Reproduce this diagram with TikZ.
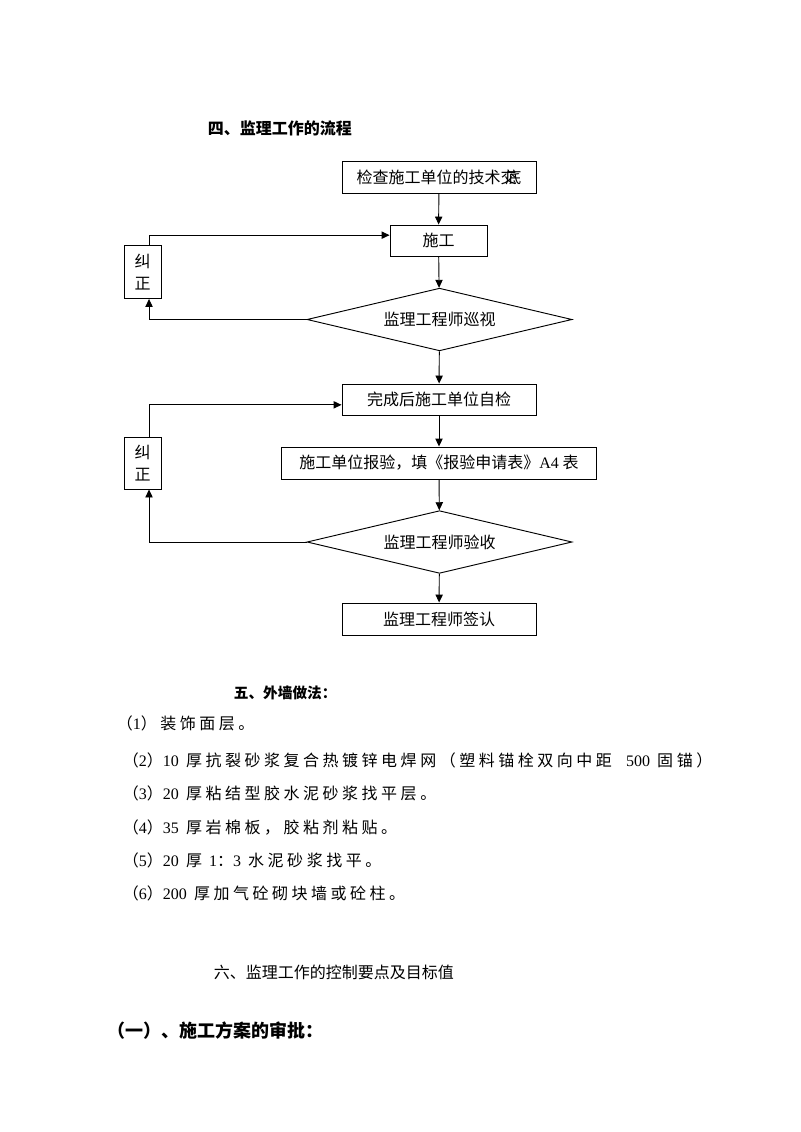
\documentclass[tikz,border=0pt]{standalone}
\usepackage{fontspec}
\setmainfont{Liberation Serif}
\newfontfamily\cjk{Noto Sans CJK SC}
\newfontfamily\cjkbody[LetterSpace=22]{Noto Sans CJK SC}
\usetikzlibrary{shapes.geometric, arrows.meta}

\begin{document}
\begin{tikzpicture}[x=0.75pt, y=-0.75pt, line width=0.7pt,
    every node/.style={font=\cjk\fontsize{12pt}{15pt}\selectfont},
    stepbox/.style={draw, rectangle, inner sep=0pt, minimum width=145.5pt, minimum height=24pt},
    checkbox/.style={draw, diamond, inner sep=0pt, shape aspect=4.2, minimum width=198.75pt, minimum height=47pt},
    fixbox/.style={draw, rectangle, align=center, inner sep=0pt, minimum width=27.75pt, minimum height=39.75pt,
      font=\cjk\fontsize{12pt}{16pt}\selectfont},
    flow/.style={-{Triangle[length=6pt,width=5.5pt]}},
    heading/.style={anchor=west, font=\cjk\bfseries\fontsize{12pt}{15pt}\selectfont},
    item/.style={anchor=west, font=\cjkbody\fontsize{12pt}{14pt}\selectfont}]
  \useasboundingbox (0,0) rectangle (800,1132);

  \node [heading] (title4) at (203,128) {四、监理工作的流程};

  % main column
  \node [stepbox] (check) at (439,177) {检查施工单位的技术交\kern-0.7em底};
  \node [stepbox, minimum width=72.75pt, minimum height=23.25pt] (work) at (438.5,240.5) {施工};
  \node [checkbox] (patrol) at (439.5,319.5) {监理工程师巡视};
  \node [stepbox, minimum height=23.25pt] (self) at (439,399.5) {完成后施工单位自检};
  \node [stepbox, minimum width=236.25pt] (apply) at (439,463) {施工单位报验，填《报验申请表》{\rmfamily A4} 表};
  \node [checkbox] (accept) at (439.5,542) {监理工程师验收};
  \node [stepbox] (sign) at (439,619) {监理工程师签认};

  \draw [flow] (check) -- (work);
  \draw [flow] (work) -- (patrol);
  \draw [flow] (patrol) -- (self);
  \draw [flow] (self) -- (apply);
  \draw [flow] (apply) -- (accept);
  \draw [flow] (accept) -- (sign);

  % correction loops
  \node [fixbox] (fix1) at (142.5,272) {纠\\正};
  \node [fixbox, minimum height=39pt] (fix2) at (142.5,463) {纠\\正};

  \draw [flow] (patrol.west) -| ([xshift=4.9pt]fix1.south);
  \draw [flow] ([xshift=4.9pt]fix1.north) |- ([yshift=4pt]work.west);
  \draw [flow] (accept.west) -| ([xshift=4.9pt]fix2.south);
  \draw [flow] ([xshift=4.9pt]fix2.north) |- ([yshift=-4pt]self.west);

  % wall layers
  \node [heading, font=\cjk\bfseries\fontsize{11pt}{14pt}\selectfont] (title5) at (229,693) {五、外墙做法：};
  \node [item] (l1) at (112,723) {（{\rmfamily 1}）装饰面层。};
  \node [item] (l2) at (118,760) {（{\rmfamily 2}）{\rmfamily 10} 厚抗裂砂浆复合热镀锌电焊网（塑料锚栓双向中距\ \ {\rmfamily 500} 固锚）};
  \node [item] (l3) at (118,793) {（{\rmfamily 3}）{\rmfamily 20} 厚粘结型胶水泥砂浆找平层。};
  \node [item] (l4) at (118,827) {（{\rmfamily 4}）{\rmfamily 35} 厚岩棉板，胶粘剂粘贴。};
  \node [item] (l5) at (118,860) {（{\rmfamily 5}）{\rmfamily 20} 厚 {\rmfamily 1}：{\rmfamily 3} 水泥砂浆找平。};
  \node [item] (l6) at (118,893) {（{\rmfamily 6}）{\rmfamily 200} 厚加气砼砌块墙或砼柱。};

  \node [anchor=west] (title6) at (209,972) {六、监理工作的控制要点及目标值};
  \node [heading, font=\cjk\bfseries\fontsize{13.5pt}{16pt}\selectfont] (sub1) at (103,1031) {（一）、施工方案的审批：};
\end{tikzpicture}
\end{document}
